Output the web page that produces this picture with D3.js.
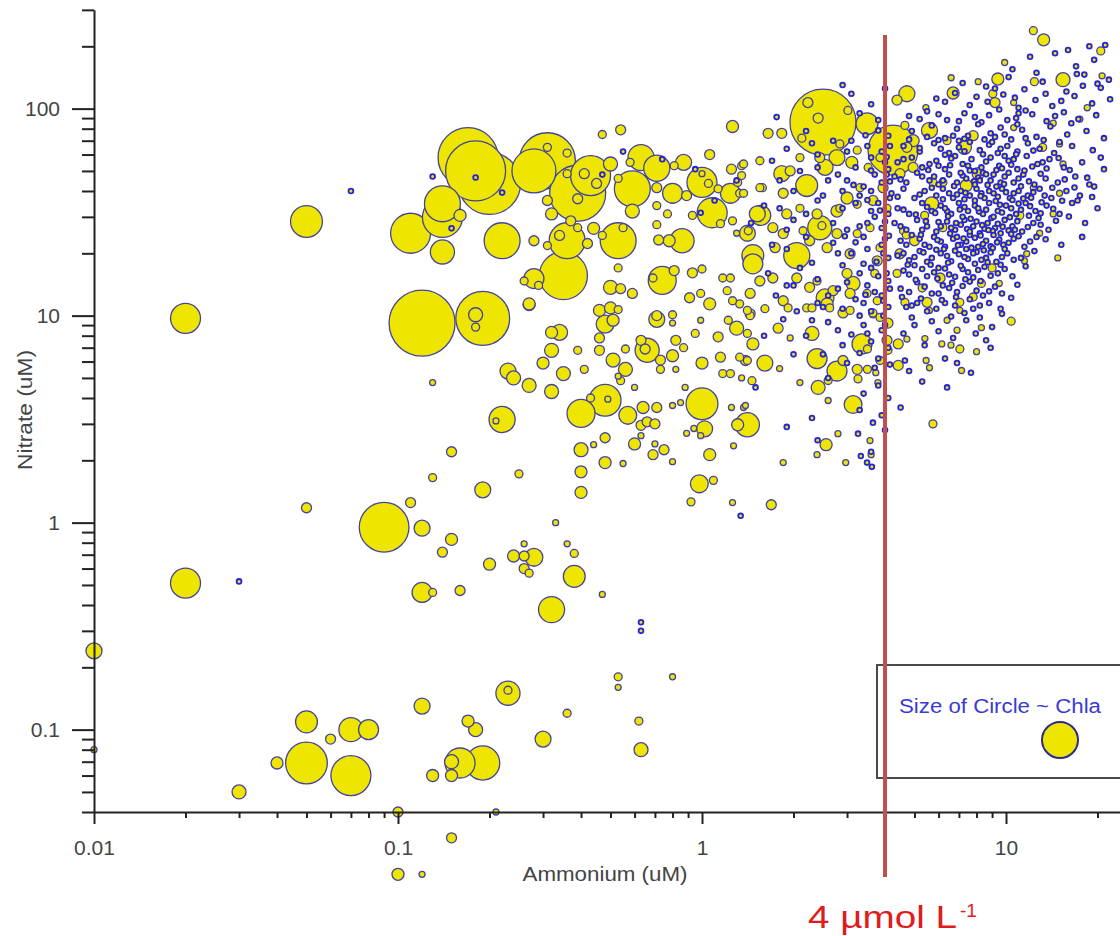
<!DOCTYPE html>
<html>
<head>
<meta charset="utf-8">
<script src="https://cdn.jsdelivr.net/npm/d3@7"></script>
<style>
  body { margin: 0; background: #ffffff; }
  svg { display: block; }
</style>
</head>
<body>
<svg id="chart" width="1120" height="936"></svg>
<script>
// Each station: [ammonium (uM), nitrate (uM), chlorophyll a]

// Stations with very low ammonium or very low nitrate
const oligotrophicStations = [
  [0.01,0.24,1.76],[0.01,0.08,0.25],[0.02,9.7,6.2],[0.02,0.51,6.2],[0.03,0.52,0.11],
  [0.05,28.5,7],[0.05,1.18,0.69],[0.07,40,0.06],[0.09,0.95,17],[0.05,0.109,3.3],
  [0.05,0.069,12],[0.04,0.069,1],[0.06,0.09,0.69],[0.07,0.1,4],[0.08,0.1,2.75],
  [0.07,0.06,11],[0.03,0.05,1.35],[0.1,0.04,0.69],[0.1,0.02,1]
];

const shelfStations = [
  [0.12,0.02,0.25],[0.15,0.03,0.69],[0.21,0.04,0.25],[0.32,0.38,4.7],[0.63,0.33,0.11],
  [0.63,0.3,0.11],[0.53,0.18,0.44],[0.53,0.16,0.25],[0.8,0.18,0.25],[0.23,0.15,4],
  [0.23,0.155,0.44],[0.12,0.13,1.76],[0.17,0.11,1],[0.18,0.1,1.35],[0.36,0.12,0.44],
  [0.3,0.09,1.76],[0.62,0.11,0.44],[0.63,0.08,1.35],[0.16,0.069,6.2],[0.15,0.07,1.35],
  [0.19,0.069,8],[0.13,0.06,1],[0.15,0.06,1],
  [0.11,1.25,0.69],[0.12,0.94,1.76],[0.15,0.83,1],[0.14,0.72,0.69],[0.2,0.63,1],
  [0.26,0.79,0.25],[0.24,0.69,1],[0.26,0.69,0.69],[0.28,0.68,2.2],[0.26,0.6,0.69],
  [0.27,0.57,0.44],[0.33,1.0,0.25],[0.36,0.79,0.25],[0.38,0.71,0.44],[0.38,0.55,3.3],
  [0.12,0.46,2.75],[0.13,0.46,0.44],[0.16,0.47,0.69],[0.47,0.45,0.25]
];

const midStations = [
  [0.12,9.2,30],[0.19,9.7,20],[0.18,10.1,1.35],[0.18,8.8,0.44],[0.27,11.3,1],
  [0.13,4.75,0.25],[0.22,3.15,4.7],[0.21,3.1,0.25],[0.23,5.4,1.76],[0.24,5.0,1.35],
  [0.27,4.6,1.35],[0.32,4.3,1.35],[0.3,5.9,1],[0.32,6.8,1.35],[0.34,8.3,1.76],
  [0.32,8.3,1],[0.35,5.25,1.35],[0.39,6.8,0.44],[0.41,5.5,0.44],[0.46,10.6,1],
  [0.48,9.1,2.2],[0.51,9.5,1],[0.53,10.7,0.44],[0.46,7.8,0.69],[0.46,6.8,0.69],
  [0.51,6.1,1.35],[0.56,5.5,1.35],[0.54,4.85,0.44],[0.53,5.1,0.25],[0.56,6.9,0.44],
  [0.63,7.6,0.69],[0.66,6.8,4],[0.65,6.9,0.69],[0.73,6.1,0.69],[0.73,5.5,0.44],
  [0.8,6.4,1],[0.82,7.6,0.69],[0.87,7.0,0.44],[0.82,5.5,0.25],[0.71,9.6,1.76],
  [0.8,10.1,0.44],[0.8,9.2,0.25],[0.4,3.37,5.4],[0.48,3.9,7],[0.49,3.95,0.25],
  [0.43,4.0,0.44],[0.57,3.3,2.2],[0.64,3.6,1],[0.71,3.6,0.69],[0.63,2.95,0.69],
  [0.66,3.07,0.69],[0.7,3.0,0.69],[0.63,2.63,0.25],[0.6,4.5,0.25],[0.48,2.57,0.69],
  [0.44,2.38,0.25],[0.4,2.25,1.35],[0.6,2.4,1],[0.7,2.4,0.25],[0.75,2.25,0.69],
  [0.69,2.13,0.69],[0.8,1.97,0.25],[0.48,1.95,1],[0.55,1.93,0.25],[0.4,1.76,1],
  [0.4,1.4,1],[0.15,2.2,0.69],[0.13,1.65,0.44],[0.25,1.72,0.44],[0.19,1.44,1.76],
  [1.0,3.75,7],[1.02,2.84,1.76],[0.99,2.63,0.25],[0.89,2.7,0.25],[0.94,2.85,0.25],
  [0.8,3.68,0.25],[0.85,3.8,0.25],[0.88,4.5,0.25],[1.25,3.6,0.25],[1.37,3.6,0.25],
  [1.41,2.97,4],[1.31,2.97,1],[1.27,2.35,0.25],[1.06,2.13,1],[0.98,1.54,2.2],
  [1.09,1.6,0.44],[0.92,1.26,0.44],[1.26,1.25,0.25],[1.34,1.08,0.11],[1.0,5.9,1],
  [1.15,6.3,0.69],[1.13,7.9,0.69],[1.22,9.5,0.44],[1.17,5.25,0.44],[1.24,5.25,0.44],
  [1.35,5.0,0.25],[1.46,4.85,0.44],[1.3,8.7,1.35],[1.41,8.2,0.44],[1.33,6.3,0.44],
  [1.41,6.07,0.44],[1.47,7.3,1],[1.44,10,0.44],[0.95,8.2,0.44],[0.99,9.5,0.25]
];

const upperStations = [
  [1.26,82,1],[0.47,75,0.44],[0.54,79,0.69],[0.13,47,0.11],[0.17,58,24.8],
  [0.18,50,24.8],[0.2,43.5,26.5],[0.18,46.5,0.06],[0.22,39.3,0.06],[0.31,56,21.6],
  [0.28,50,13.3],[0.39,39,21.6],[0.43,47.5,11],[0.31,65,0.44],[0.36,61,0.44],
  [0.36,48.5,0.44],[0.41,48.5,0.69],[0.45,43.5,0.69],[0.39,36.7,0.69],[0.31,36,0.69],
  [0.32,31,1],[0.37,28.7,0.69],[0.39,26.6,0.44],[0.44,26.4,1],[0.47,24.4,0.44],
  [0.42,22.3,0.69],[0.34,24.4,0.69],[0.31,21.8,0.44],[0.36,23,8.9],[0.35,15.6,15.9],
  [0.28,15.1,2.75],[0.26,14.7,0.44],[0.27,11.4,1],[0.22,23,8.9],[0.28,23,0.69],
  [0.11,25,11],[0.14,29.8,11],[0.14,34.7,8.9],[0.14,20.3,4],[0.16,30.5,1],
  [0.15,26.4,0.06],[0.5,54,1.35],[0.58,55,0.44],[0.63,58,4.7],[0.71,51.5,4.7],
  [0.59,41,8.9],[0.59,32,1.35],[0.53,46,0.44],[0.71,41.5,0.69],[0.81,53,0.44],
  [0.87,55,1.76],[0.8,39,2.75],[0.89,38,0.69],[0.77,31,0.44],[0.71,34,0.44],
  [0.93,30.5,0.44],[0.53,23,8.9],[0.55,26.6,0.44],[0.86,23,4],[0.78,23,1],
  [0.72,23.2,0.69],[0.71,27.5,0.44],[1.0,44,6.2],[1.0,48.5,0.25],[1.05,43.5,0.44],
  [1.13,41,0.44],[1.08,31.4,6.2],[0.99,31.4,0.06],[1.06,60,0.69],[1.25,51,0.69],
  [1.31,44,0.44],[1.33,39,0.44],[1.35,53,0.44],[1.24,39,2.75],[1.41,25,1.76],
  [1.15,27.8,0.44],[1.26,28.7,0.44],[1.3,25,0.25],[1.47,17.8,2.75],[1.52,31,1.76],
  [0.74,14.8,5.4],[0.69,15.2,0.44],[0.81,16.5,0.69],[0.93,16.1,0.69],[1.0,16.8,0.44],
  [0.5,13.7,1.35],[0.54,13.5,0.69],[0.59,12.8,0.69],[0.5,10.9,1],[0.71,10,0.69],
  [0.91,12.2,0.69],[1.06,11.4,1],[0.99,12.8,0.44],[1.17,15.2,0.44],[1.24,15.2,0.44],
  [1.21,13.2,0.44],[1.33,11.4,0.44],[1.41,10.6,0.44],[1.26,11.8,0.44],[0.53,17,0.44],
  [0.29,14,0.44]
];

const eastStations = [
  [12.3,238,0.44],[13.3,215,1],[20.5,190,0.44],[9.9,167,0.25],[9.4,139,1],
  [8.1,135,0.25],[12.4,135,0.44],[15.4,138,1.35],[20.7,144,0.25],[6.6,141,0.25],
  [6.7,119,1],[9.2,107,0.69],[9.05,118,0.44],[10.6,107,0.25],[5.45,101,0.25],
  [4.72,118,1.76],[4.38,110,0.69],[2.5,86,30],[2.23,107,0.69],[2.41,90,0.69],
  [3.02,98,0.44],[2.13,72,0.44],[3.49,84.5,3.3],[1.65,76,0.69],[1.83,76,0.69],
  [4.25,63,17.2],[4.95,70,1],[5.6,78.5,1.76],[4.65,83,0.44],[2.78,58,1.76],
  [2.54,52,1.76],[3.11,55,1],[1.83,48.5,1.76],[2.21,42.5,3.3],[1.58,41.5,0.44],
  [1.85,39,0.69],[1.56,30.5,2.75],[1.71,26.6,0.69],[2.44,26.6,4],[2.48,27.2,0.44],
  [2.78,32,1],[3.0,37,1],[3.24,34.5,0.44],[1.47,19.5,3.3],[2.05,19.5,4.7],
  [1.74,21.3,0.69],[2.26,23,0.69],[5.7,34.7,1.35],[6.4,70,0.44],[7.3,65,1.35],
  [5.75,44,0.44],[6.2,44,0.44],[2.54,12.2,2.2],[2.39,14.7,0.44],[3.14,14.3,1.35],
  [3.0,16,0.69],[3.77,18.4,0.69],[3.7,16,0.44],[7.8,74,0.69],[8.1,48.5,1],
  [7.4,42.5,1],[5.4,30.5,0.44],[6.2,26.6,0.44],[5.0,23,0.69],[4.6,25.7,0.44],
  [6.07,15.2,0.69],[5.3,13.6,0.44],[7.05,11.6,0.44],[7.8,12.3,0.44],[8.3,14.3,0.44],
  [5.5,11.6,0.69],[4.65,11.6,0.44],[4.38,16,0.44],[4.48,19.9,0.69],[4.7,24.5,0.44],
  [11.1,30.5,0.44],[11.5,18.4,0.25],[10.6,81,0.25],[12.3,41.5,0.25],[13.2,65,0.44],
  [14.3,85,0.25],[15,67.5,0.25],[15.4,54,0.25],[18.5,101,0.25],[17.5,89,0.25],
  [15,39,0.25],[14.3,31,0.25],[12.9,25,0.25],[11.7,19.9,0.25],[9.0,17,0.44],
  [9.5,14.3,0.25],[14.8,19,0.25],
  [1.37,54,0.44],[1.35,47.5,0.44],[1.37,39,0.44],[1.55,41.5,0.44],[1.42,25.7,0.44],
  [2.39,31,0.69],[2.78,24.9,0.69],[3.07,19.9,0.69],[3.24,24.9,0.44],[3.57,26.6,0.44],
  [3.85,21.3,0.44],[2.84,33,0.44],[3.31,41.5,0.44],[3.65,36,0.69],[3.94,41.5,0.69],
  [4.06,33,0.44],[4.72,65,0.69],[4.95,52,0.69],[4.48,48.5,0.69],[3.52,52,0.44],
  [3.85,58,0.44],[3.24,63,0.44],[2.84,67.5,0.44],[2.44,58,0.69],[2.1,58,0.44],
  [1.95,50,0.69],[1.55,56,0.44],[1.9,31,0.69],[2.1,33,0.44],[1.85,24.9,0.69],
  [2.15,25.7,0.44],[2.58,21.3,0.69],[1.55,14.7,0.69],[1.71,15.2,0.69],[2.05,15.2,0.69],
  [2.26,13.7,0.69],[2.7,13.2,0.69],[3.07,12.8,0.69],[3.49,12.8,0.44],[3.77,11.8,0.44],
  [1.44,12.8,0.69],[1.85,11.8,0.69],[2.21,10.9,0.44],[2.63,10.9,0.44],[3.07,10.6,0.44],
  [3.65,10.2,0.44],[1.92,10.9,0.44],[2.3,10.9,0.44],[2.58,11.4,1],[2.91,10.3,0.69],
  [3.65,10.3,0.44],
  [1.44,10.2,0.69],[1.61,10.8,0.44],[1.61,5.9,1.76],[1.39,6.07,0.69],[1.78,8.7,0.69],
  [1.95,7.8,0.25],[1.8,5.55,0.25],[2.3,8.2,1.35],[2.39,6.2,2.75],[2.1,4.75,0.25],
  [2.78,5.4,2.75],[2.91,6.07,0.69],[2.6,4.86,0.44],[2.41,4.5,1.35],[3.24,5.5,0.69],
  [3.5,5.5,0.44],[3.26,4.95,0.44],[3.36,7.3,2.75],[3.5,6.9,0.44],[2.6,3.89,0.25],
  [3.14,3.72,2.2],[1.39,3.68,0.25],[2.8,2.69,0.25],[2.56,2.38,1],[2.39,2.13,0.25],
  [1.85,1.95,0.25],[2.97,1.95,0.25],[3.57,2.49,0.25],[3.6,2.13,0.25],[1.69,1.22,0.69],
  [3.85,9.8,0.44],[4.09,9.2,0.69],[4.06,7.6,0.69],[4.42,7.3,0.69],[4.09,6.8,0.44],
  [4.42,5.75,0.69],[3.79,4.75,0.25],[3.73,5.3,0.25],[3.85,6.07,0.44],[4.72,7.7,0.25],
  [5.41,7.75,0.25],[6.15,7.3,0.25],[6.59,7.2,0.25],[7.05,6.9,0.44],[8.0,6.7,0.25],
  [5.46,6.07,0.25],[5.6,5.6,0.25],[7.14,5.43,0.25],[5.75,3.0,0.44],[10.4,9.4,0.44],
  [8.3,8.75,0.25],[6.9,8.5,0.25],[6.4,9.5,0.25],[5.6,10.6,0.25],[7.05,10.6,0.25]
];

// Stations with very little chlorophyll (drawn as small dots)
const lowChlaStations = [
  [14.5,185,0.1],[17,160,0.08],[19.5,172,0.1],[12,178,0.08],[10.5,155,0.1],[16,192,0.08],
  [18.8,200,0.1],[21.2,203,0.1],[17.1,147,0.1],[20,132,0.1],
  [8.6,128,0.1],[10.2,142,0.12],[11.5,124,0.08],[13.2,135,0.1],[15.8,121,0.1],[18.1,146,0.08],
  [20.5,126,0.1],[7.2,133,0.1],[21.8,138,0.08],[12.6,149,0.08],
  [5.9,112,0.1],[7.6,104,0.12],[9.8,117,0.1],[11,101,0.1],[12.5,110,0.12],[14.2,103,0.1],
  [16.8,115,0.1],[19.2,106,0.08],[22,111,0.1],[6.8,119,0.08],[8.7,108,0.1],
  [4.8,92,0.1],[5.5,97,0.08],[6.4,88,0.12],[7.3,95,0.1],[8.3,86,0.12],[9.5,99,0.1],
  [10.8,90,0.12],[12.2,94,0.1],[13.6,87,0.1],[15.5,96,0.08],[17.3,89,0.1],[19.8,93,0.08],
  [7.9,91,0.1],[11.6,98,0.1],
  [4.9,78,0.1],[5.7,83,0.12],[6.3,72,0.1],[6.9,80,0.12],[7.5,74,0.12],[8.1,84,0.1],
  [8.9,76,0.12],[9.6,81,0.12],[10.4,71,0.1],[11.3,79,0.12],[12.6,73,0.1],[14.0,82,0.1],
  [15.9,75,0.1],[18.4,78,0.08],[21.0,72,0.1],[7.0,70,0.1],[9.2,73,0.1],[10.9,84,0.1],
  [4.6,66,0.1],[5.2,62,0.12],[5.8,68,0.1],[6.5,61,0.12],[7.0,65,0.12],[7.6,69,0.1],
  [8.2,63,0.12],[8.8,67,0.12],[9.4,61,0.12],[10.1,66,0.12],[10.9,62,0.1],[11.8,68,0.12],
  [12.9,64,0.1],[14.4,61,0.1],[16.5,66,0.08],[19.3,63,0.08],[6.1,64,0.1],[9.0,69,0.1],
  [4.4,55,0.1],[4.9,58,0.12],[5.3,52,0.12],[5.9,56,0.12],[6.3,51,0.12],[6.8,59,0.12],
  [7.2,54,0.12],[7.7,57,0.12],[8.3,52,0.14],[8.9,58,0.12],[9.5,53,0.12],[10.2,56,0.12],
  [10.9,51,0.12],[11.7,59,0.1],[12.7,54,0.12],[13.9,57,0.1],[15.5,52,0.1],[17.8,55,0.1],
  [20.5,58,0.08],[7.9,50,0.1],[9.9,59,0.1],[6.0,53,0.1],
  [4.3,47,0.1],[4.7,44,0.12],[5.1,49,0.12],[5.6,45,0.12],[6.0,43,0.12],[6.5,48,0.14],
  [6.9,44,0.12],[7.4,46,0.14],[7.9,43,0.12],[8.4,49,0.14],[8.9,45,0.14],[9.3,42,0.12],
  [9.9,47,0.14],[10.6,44,0.12],[11.4,48,0.12],[12.4,43,0.12],[13.5,46,0.1],[14.8,44,0.1],
  [16.9,47,0.1],[18.8,43,0.08],[7.1,49,0.12],[8.2,45,0.12],[10.2,49,0.12],[5.8,47,0.1],
  [4.2,39,0.1],[4.6,41,0.12],[5.0,37,0.12],[5.4,40,0.12],[5.9,38,0.14],[6.2,41,0.12],
  [6.7,37,0.14],[7.1,40,0.14],[7.6,38,0.14],[8.0,41,0.14],[8.5,37,0.14],[9.1,39,0.14],
  [9.7,41,0.14],[10.3,37,0.12],[11.0,40,0.14],[11.8,38,0.12],[12.9,41,0.12],[14.1,37,0.1],
  [15.8,40,0.1],[17.5,38,0.08],[6.5,39,0.12],[8.8,40,0.12],[10.6,39,0.12],[7.9,36,0.12],
  [4.4,33,0.1],[4.8,31,0.12],[5.3,35,0.12],[5.7,32,0.12],[6.1,34,0.14],[6.6,31,0.14],
  [7.0,35,0.14],[7.5,32,0.14],[7.9,34,0.14],[8.4,31,0.14],[8.8,35,0.14],[9.4,32,0.14],
  [10.0,34,0.14],[10.8,31,0.12],[11.6,35,0.12],[12.5,32,0.12],[13.6,34,0.1],[15.0,31,0.1],
  [7.2,30,0.12],[9.1,30,0.12],[6.3,33,0.12],[8.1,33,0.12],
  [4.3,28,0.1],[4.7,26,0.12],[5.1,29,0.12],[5.5,27,0.12],[5.9,25.5,0.12],[6.4,28.5,0.14],
  [6.8,26,0.14],[7.3,29,0.14],[7.8,27,0.14],[8.2,25,0.14],[8.7,28,0.14],[9.2,26.5,0.14],
  [9.9,29,0.12],[10.5,27,0.12],[11.3,25.5,0.12],[12.3,28,0.1],[13.8,26,0.1],[6.1,27,0.12],
  [7.6,25.5,0.12],[9.6,25,0.12],
  [4.5,23,0.1],[4.9,24.5,0.12],[5.4,22,0.12],[5.8,24,0.12],[6.3,21.5,0.12],[6.7,23.5,0.14],
  [7.1,22,0.14],[7.6,24.5,0.14],[8.1,21.5,0.12],[8.6,23,0.14],[9.1,24.5,0.12],[9.8,22,0.12],
  [10.6,23.5,0.12],[11.5,21.5,0.1],[12.6,24,0.1],[7.4,21,0.12],
  [4.4,19.5,0.1],[4.8,18.5,0.12],[5.2,20.5,0.12],[5.7,19,0.12],[6.1,20,0.12],[6.6,18.3,0.12],
  [7.0,19.8,0.12],[7.5,18.8,0.12],[8.0,20.3,0.12],[8.6,19,0.12],[9.3,18.2,0.1],[10.1,20,0.1],
  [11.2,19,0.1],
  [4.6,16.5,0.1],[5.0,17.5,0.12],[5.5,15.5,0.12],[6.0,17,0.12],[6.5,15.8,0.12],[7.2,16.8,0.12],
  [7.8,15.3,0.1],[8.5,17.2,0.1],[9.4,16,0.1],[10.5,15.5,0.1],
  [4.5,13.5,0.1],[5.1,14.5,0.1],[5.7,12.8,0.12],[6.2,14,0.1],[6.9,13,0.12],[7.6,14.6,0.1],
  [8.4,12.5,0.1],[9.2,13.8,0.1],[10.4,12.2,0.08],
  [4.7,11,0.1],[5.5,10.5,0.1],[6.3,11.5,0.1],[7.3,10.3,0.1],[8.2,11.2,0.1],[9.6,10.8,0.08],
  [5.0,9,0.1],[6.0,8.4,0.1],[7.4,9.5,0.08],[9.0,8.8,0.08],
  [16.5,35,0.1],[18.2,28,0.08],[19.5,42,0.1],[21,51,0.08],[17.8,24,0.1],[15.2,22,0.1],
  [20,33,0.08],[17.2,36,0.1],[9.7,10.2,0.1],[8.9,7.0,0.1],[6.9,5.9,0.1],[7.67,5.3,0.1],
  [6.4,4.5,0.1],[4.65,6.07,0.1],[8.2,9.8,0.1],[4.9,11.2,0.1],[7.95,8.2,0.1],
  [3.1,118,0.1],[3.6,105,0.1],[4.0,125,0.08],[2.9,130,0.1],
  [3.3,95,0.1],[3.8,88,0.1],[2.2,78,0.1],[2.7,70,0.1],[3.5,66,0.12],[4.1,74,0.1],
  [3.0,62,0.1],[1.9,64,0.1],[2.4,60,0.1],
  [3.2,52,0.12],[3.7,48,0.12],[4.0,55,0.1],[2.6,45,0.1],[2.1,50,0.1],[3.4,42,0.12],
  [3.9,44,0.12],[1.7,56,0.1],[2.9,40,0.1],
  [3.3,38,0.12],[3.8,35,0.12],[4.1,31,0.12],[3.5,28,0.12],[2.9,33,0.1],[2.4,36,0.1],
  [2.0,29,0.1],[3.0,26,0.12],[3.9,26.5,0.12],[1.8,33,0.1],[3.6,32,0.12],[4.15,37,0.12],
  [3.4,24,0.12],[3.9,22,0.12],[4.1,19,0.12],[3.6,17,0.12],[3.1,20,0.12],[2.7,22.5,0.1],
  [2.3,18,0.1],[1.9,21,0.1],[3.3,16,0.12],[3.8,15.5,0.12],[2.9,17.5,0.1],[1.65,16,0.1],
  [4.0,23.5,0.12],
  [3.5,14,0.12],[3.9,12.5,0.12],[4.1,11,0.12],[3.2,12,0.12],[2.8,13.5,0.1],[2.4,11.5,0.1],
  [2.0,14,0.1],[3.6,10.5,0.12],[1.75,12.5,0.1],[2.9,10.8,0.1],[3.4,11.5,0.12],[4.15,13.5,0.12],
  [3.4,9,0.12],[3.9,8.5,0.12],[4.1,7,0.12],[3.6,7.5,0.12],[3.1,8.1,0.1],[2.6,9.3,0.1],
  [2.2,8.0,0.1],[3.8,6.2,0.1],[3.3,6.6,0.1],[4.15,5.8,0.1],[2.9,7.2,0.1],[1.85,9.6,0.1],
  [3.65,3.04,0.1],[3.26,2.69,0.1],[3.33,2.1,0.1],[3.49,1.95,0.1],[3.62,1.86,0.1],
  [1.76,91,0.1],[1.3,45,0.08],[0.47,48,0.08],[0.55,62,0.08],[0.74,57,0.08],[0.95,51,0.08],
  [1.1,36,0.08],[1.45,28,0.08]
];

// Further low-chlorophyll stations in the high-ammonium cloud
const eutrophicLowChla = [
  [4.6,57,0.12],[5.6,54,0.12],[6.6,57.5,0.12],[7.5,53,0.14],[8.6,55.5,0.12],[9.7,51.5,0.12],
  [10.6,57,0.12],[12.2,52.5,0.1],[13.2,55,0.1],
  [4.5,45.5,0.12],[5.3,47,0.12],[6.2,45,0.14],[7.2,47.5,0.14],[8.1,46.5,0.14],[9.1,48,0.14],
  [9.6,44,0.14],[11.0,46,0.12],[11.9,44.5,0.12],[13.0,48.5,0.1],[15.6,45.5,0.1],
  [4.4,37.5,0.12],[5.2,38.5,0.12],[5.7,41.5,0.12],[6.9,38.5,0.14],[7.3,36.5,0.14],[8.3,39,0.14],
  [9.4,37.5,0.14],[10.0,39.5,0.14],[11.4,36.8,0.12],[12.3,39.5,0.12],[13.4,38,0.1],
  [4.6,32.5,0.12],[5.5,33.5,0.12],[6.4,32,0.14],[7.3,33.5,0.14],[8.6,32.5,0.14],[9.7,31.5,0.14],
  [10.4,33,0.12],[11.2,32.5,0.12],[12.0,33.8,0.12],[13.0,31.2,0.1],[14.3,32.8,0.1],
  [4.5,27,0.12],[5.3,26,0.12],[6.0,28.3,0.14],[6.6,26.6,0.14],[7.1,27.5,0.14],[8.0,28.5,0.14],
  [8.5,26.3,0.14],[9.4,27.8,0.12],[10.2,25.8,0.12],[10.9,28.6,0.12],[11.8,26.8,0.1],[13.0,27.5,0.1],
  [4.7,22,0.12],[5.2,23.5,0.12],[5.6,21.5,0.12],[6.1,22.8,0.14],[6.9,24,0.14],[7.4,22.8,0.14],
  [7.9,23.8,0.14],[8.4,22.2,0.12],[8.9,21.6,0.12],[9.5,23.3,0.12],[10.2,22.5,0.12],[11.0,24.2,0.1],
  [12.0,22.8,0.1],
  [4.6,20,0.12],[5.0,19.2,0.12],[5.5,18.2,0.12],[5.9,20.8,0.12],[6.4,19.4,0.12],[6.8,20.6,0.12],
  [7.3,19.2,0.12],[7.8,20,0.12],[8.3,18.6,0.12],[8.9,20.2,0.1],[9.7,19.2,0.1],[10.6,18.6,0.1],
  [4.8,15.8,0.12],[5.3,16.8,0.12],[5.8,16.2,0.12],[6.3,16.9,0.12],[6.8,15.4,0.12],[7.5,16.2,0.1],
  [8.1,16.6,0.1],[8.9,15.6,0.1],[9.9,16.8,0.1],
  [4.8,13,0.1],[5.4,13.8,0.1],[6.0,12.8,0.1],[6.5,13.6,0.1],[7.2,13.9,0.1],[8.0,13.2,0.1],
  [8.8,13.1,0.1],[9.7,12.8,0.1],
  [5.1,11.5,0.1],[5.9,10.8,0.1],[6.8,11.2,0.1],[7.8,10.8,0.1],[8.8,11.5,0.1],
  [4.8,71,0.1],[5.5,73,0.1],[6.0,70.5,0.12],[6.7,74,0.12],[7.3,71.5,0.12],[8.5,71,0.12],
  [9.9,75,0.1],[11.6,72,0.1],[13.3,70.5,0.1],[15.0,69,0.1],
  [5.2,89,0.1],[6.0,94,0.1],[7.0,87,0.1],[8.8,93,0.1],[10.1,88,0.1],[11.0,95,0.1],
  [14.5,92,0.1],[16.4,85,0.1],
  [6.3,108,0.1],[8.0,114,0.1],[9.2,125,0.1],[10.7,113,0.1],[13.5,118,0.1],[15.2,109,0.1],
  [17.9,129,0.1],
  [4.8,5.4,0.1],[5.3,4.8,0.1],[6.3,6.2,0.1],[8.6,7.6,0.1],[4.5,3.6,0.1],
  [6.2,36.5,0.14],[6.75,42.3,0.14],[7.35,39.2,0.14],[7.85,44.6,0.14],[8.25,37.8,0.14],
  [8.7,42.8,0.14],[9.25,35.8,0.14],[9.85,43.2,0.14],[10.5,36.2,0.12],[11.2,42.2,0.12],
  [12.1,37.1,0.12],[6.45,30.2,0.14],[7.05,32.6,0.14],[7.65,29.4,0.14],[8.15,31.8,0.14],
  [8.95,29.6,0.14],[9.55,34.3,0.14],[10.3,29.9,0.12],[11.0,34.8,0.12],[11.9,30.4,0.12],
  [5.05,30.8,0.12],[5.45,28.6,0.12],[5.85,31.3,0.12],[6.85,28.0,0.14],[7.45,26.2,0.14],
  [8.35,27.4,0.14],[9.05,25.6,0.14],[9.75,26.9,0.12],[10.7,26.0,0.12],[5.25,24.6,0.12],
  [5.95,23.2,0.12],[6.55,24.9,0.14],[7.25,23.6,0.14],[8.25,24.4,0.14],[8.75,25.9,0.14],
  [9.35,22.6,0.12],[10.4,24.8,0.12],[5.35,20.2,0.12],[6.25,21.0,0.12],[6.95,21.9,0.12],
  [7.7,21.3,0.12],[8.45,20.7,0.12],[9.05,21.2,0.12],[9.9,21.0,0.1],[4.75,17.6,0.12],
  [5.65,17.6,0.12],[6.45,18.0,0.12],[7.1,17.4,0.12],[7.9,17.8,0.12],[8.7,18.1,0.1],
  [9.6,17.6,0.1],[5.05,14.9,0.1],[5.95,15.1,0.1],[6.65,14.4,0.1],[7.35,15.0,0.1],
  [8.25,14.7,0.1],[4.55,12.3,0.1],[5.25,12.1,0.1],[6.15,11.9,0.1],[6.85,12.3,0.1],
  [7.6,12.0,0.1],[4.9,9.8,0.1],[5.7,9.4,0.1],[6.6,9.9,0.1],[4.6,8.2,0.1],[5.4,7.2,0.1],
  [6.7,7.8,0.1],
  [5.2,64.5,0.12],[6.3,59.8,0.12],[7.3,62.2,0.12],[8.4,60.2,0.12],[9.6,64,0.12],
  [10.8,60.2,0.1],[12.3,62.7,0.1],[5.55,50.5,0.12],[6.55,53.3,0.12],[7.6,50.3,0.12],
  [8.6,48.2,0.14],[9.3,50.5,0.12],[10.4,53.6,0.12],[11.5,50.2,0.12],[13.6,51.4,0.1],
  [14.9,57.7,0.1],[16.2,50.5,0.1],[14.2,41.5,0.1],[15.3,35.9,0.1],[16.8,41.6,0.1],
  [18.5,46.4,0.08],[13.1,35.3,0.1],[14.6,28.7,0.1],[12.8,29.6,0.1],[16.1,30.1,0.1],
  [19.2,37.4,0.08],[12.4,20.5,0.1],[13.5,23.4,0.1],[11.6,17.3,0.1],[10.9,14.1,0.1]
];

// Further low-chlorophyll stations just below the ammonium threshold
const transitionLowChla = [
  [3.0,45,0.12],[3.6,40,0.12],[4.05,48,0.12],[2.5,38,0.1],[3.2,35,0.12],[3.7,30,0.12],
  [2.7,28,0.1],[3.3,27,0.12],[4.0,28.5,0.12],[2.2,24,0.1],[2.8,20,0.1],[3.5,21,0.12],
  [3.95,20,0.12],[2.4,15,0.1],[3.0,14.5,0.12],[3.7,13,0.12],[4.05,16,0.12],[2.6,12.5,0.1],
  [3.3,10,0.12],[3.95,10,0.12],[2.3,9.5,0.1],[2.8,8.5,0.1],[3.5,8.2,0.12],[4.0,9,0.12],
  [3.7,5.6,0.1],[3.0,5.9,0.1],[2.5,6.5,0.1],[3.8,4.6,0.1],[3.4,4.2,0.1],[4.1,4.0,0.1],
  [3.9,3.3,0.1],[4.0,2.8,0.1],[3.3,3.5,0.1],[2.0,40,0.1],[1.8,45,0.1],[2.4,52,0.1],
  [2.8,48,0.1],[3.6,58,0.1],[3.1,70,0.1],[3.9,62,0.1],[4.15,66,0.1],[2.3,68,0.1],
  [1.6,34,0.1],[2.2,31,0.1],[1.9,26,0.1],[1.7,22,0.1],[2.1,17,0.1],[1.9,14,0.1],
  [2.5,11,0.1],[2.05,10.5,0.1],[1.6,8,0.1],[2.0,6.5,0.1],[2.6,5.0,0.1],[1.5,4.5,0.1],
  [3.6,2.2,0.1],[2.3,3.2,0.1],[1.9,2.9,0.1],[2.4,2.5,0.1],
  [4.15,44.5,0.12],[4.1,51,0.12],[3.85,32.2,0.12],[4.12,24.3,0.12],[3.75,18.2,0.12],
  [4.1,14.7,0.12],[3.95,11.8,0.12],[3.45,12.6,0.1],[3.4,17.8,0.1],[3.2,22.6,0.1],
  [2.95,24.2,0.1],[3.5,36.2,0.12],[3.15,42.8,0.1],[3.6,50.2,0.1],[4.05,58.4,0.1],
  [3.8,78.5,0.1],[3.45,74.3,0.1]
];

// Axis ticks and annotation values
const xMajorTicks = [0.01, 0.1, 1, 10];
const xTickLabels = ["0.01", "0.1", "1", "10"];
const yMajorTicks = [0.1, 1, 10, 100];
const yTickLabels = ["0.1", "1", "10", "100"];
const ammoniumThreshold = 4;   // µmol L-1
const maxChla = 30;

const svg = d3.select("#chart");
const FONT = "'Liberation Sans', Arial, Helvetica, sans-serif";

// Log scales: one decade is 304 px horizontally and 207 px vertically
const xDomain = [0.01, 24];
const yDomain = [0.04, 300];
const x = d3.scaleLog().domain(xDomain)
  .range([94, 94 + 304 * Math.log10(xDomain[1] / xDomain[0])]);
const y = d3.scaleLog().domain(yDomain)
  .range([812, 812 - 207 * Math.log10(yDomain[1] / yDomain[0])]);
const r = d3.scaleSqrt().domain([0, maxChla]).range([0, 33]);

function minorTicks(domain) {
  const out = [];
  for (let e = -3; e <= 3; e++) {
    for (let m = 2; m <= 9; m++) {
      const v = m * Math.pow(10, e);
      if (v >= domain[0] * 0.999 && v <= domain[1] * 1.001) out.push(v);
    }
  }
  return out;
}

// ---- points, largest chlorophyll first so small ones stay visible ----
const stations = [].concat(oligotrophicStations, shelfStations, midStations,
                           upperStations, eastStations, lowChlaStations,
                           eutrophicLowChla, transitionLowChla)
  .map(d => ({ nh4: d[0], no3: d[1], chla: d[2] }))
  .sort((a, b) => b.chla - a.chla);

svg.append("g").selectAll("circle")
  .data(stations)
  .join("circle")
  .attr("cx", d => x(d.nh4))
  .attr("cy", d => y(d.no3))
  .attr("r", d => Math.max(2.4, r(d.chla)))
  .attr("fill", "#eee600")
  .attr("stroke", d => d.chla < 0.2 ? "#2424dc" : "#43439c")
  .attr("stroke-width", d => d.chla < 0.2 ? 1.8 : 1.3);

// ---- axes ----
function styleAxis(g) {
  g.selectAll("path.domain").attr("stroke", "#222").attr("stroke-width", 2);
  g.selectAll(".tick line").attr("stroke", "#222").attr("stroke-width", 2);
  g.selectAll(".tick text").attr("fill", "#444")
    .style("font-family", FONT).style("font-size", "21px");
}

const yAxisG = svg.append("g").attr("transform", "translate(94,0)");
yAxisG.append("g")
  .call(d3.axisLeft(y).tickValues(minorTicks(yDomain)).tickSize(12).tickSizeOuter(0).tickFormat(""))
  .call(styleAxis);
yAxisG.append("g")
  .call(d3.axisLeft(y).tickValues(yMajorTicks).tickSize(22).tickSizeOuter(0).tickPadding(12)
        .tickFormat((d, i) => yTickLabels[i]))
  .call(styleAxis)
  .call(g => g.select("path.domain").remove());

const xAxisG = svg.append("g").attr("transform", "translate(0,812)");
xAxisG.append("g")
  .call(d3.axisBottom(x).tickValues(minorTicks(xDomain)).tickSize(6).tickSizeOuter(0).tickFormat(""))
  .call(styleAxis);
xAxisG.append("g")
  .call(d3.axisBottom(x).tickValues(xMajorTicks).tickSize(12).tickSizeOuter(0).tickPadding(16)
        .tickFormat((d, i) => xTickLabels[i]))
  .call(styleAxis)
  .call(g => g.select("path.domain").remove());

// Axis titles
svg.append("text")
  .attr("x", 605).attr("y", 881)
  .attr("text-anchor", "middle")
  .attr("textLength", 165).attr("lengthAdjust", "spacingAndGlyphs")
  .attr("fill", "#444")
  .style("font-family", FONT).style("font-size", "21px")
  .text("Ammonium (uM)");

svg.append("text")
  .attr("transform", "translate(32,410) rotate(-90)")
  .attr("text-anchor", "middle")
  .attr("textLength", 120).attr("lengthAdjust", "spacingAndGlyphs")
  .attr("fill", "#444")
  .style("font-family", FONT).style("font-size", "21px")
  .text("Nitrate (uM)");

// ---- legend ----
svg.append("rect")
  .attr("x", 877).attr("y", 665).attr("width", 270).attr("height", 113)
  .attr("fill", "none").attr("stroke", "#4a4a4a").attr("stroke-width", 2);
svg.append("text")
  .attr("x", 899).attr("y", 713)
  .attr("textLength", 202).attr("lengthAdjust", "spacingAndGlyphs")
  .attr("fill", "#3a3ad4")
  .style("font-family", FONT).style("font-size", "20px")
  .text("Size of Circle ~ Chla");
svg.append("circle")
  .attr("cx", 1060).attr("cy", 740).attr("r", 18)
  .attr("fill", "#eee600").attr("stroke", "#2a2a90").attr("stroke-width", 2);

// ---- ammonium threshold ----
svg.append("line")
  .attr("x1", x(ammoniumThreshold)).attr("x2", x(ammoniumThreshold))
  .attr("y1", 35).attr("y2", 877)
  .attr("stroke", "#c0504d").attr("stroke-width", 4);

svg.append("text")
  .attr("x", 808).attr("y", 928)
  .attr("textLength", 149).attr("lengthAdjust", "spacingAndGlyphs")
  .attr("fill", "#de1c1c")
  .style("font-family", FONT).style("font-size", "32px")
  .text(ammoniumThreshold + " µmol L");
svg.append("text")
  .attr("x", 960).attr("y", 917)
  .attr("textLength", 17).attr("lengthAdjust", "spacingAndGlyphs")
  .attr("fill", "#de1c1c")
  .style("font-family", FONT).style("font-size", "19px")
  .text("-1");
</script>
</body>
</html>
